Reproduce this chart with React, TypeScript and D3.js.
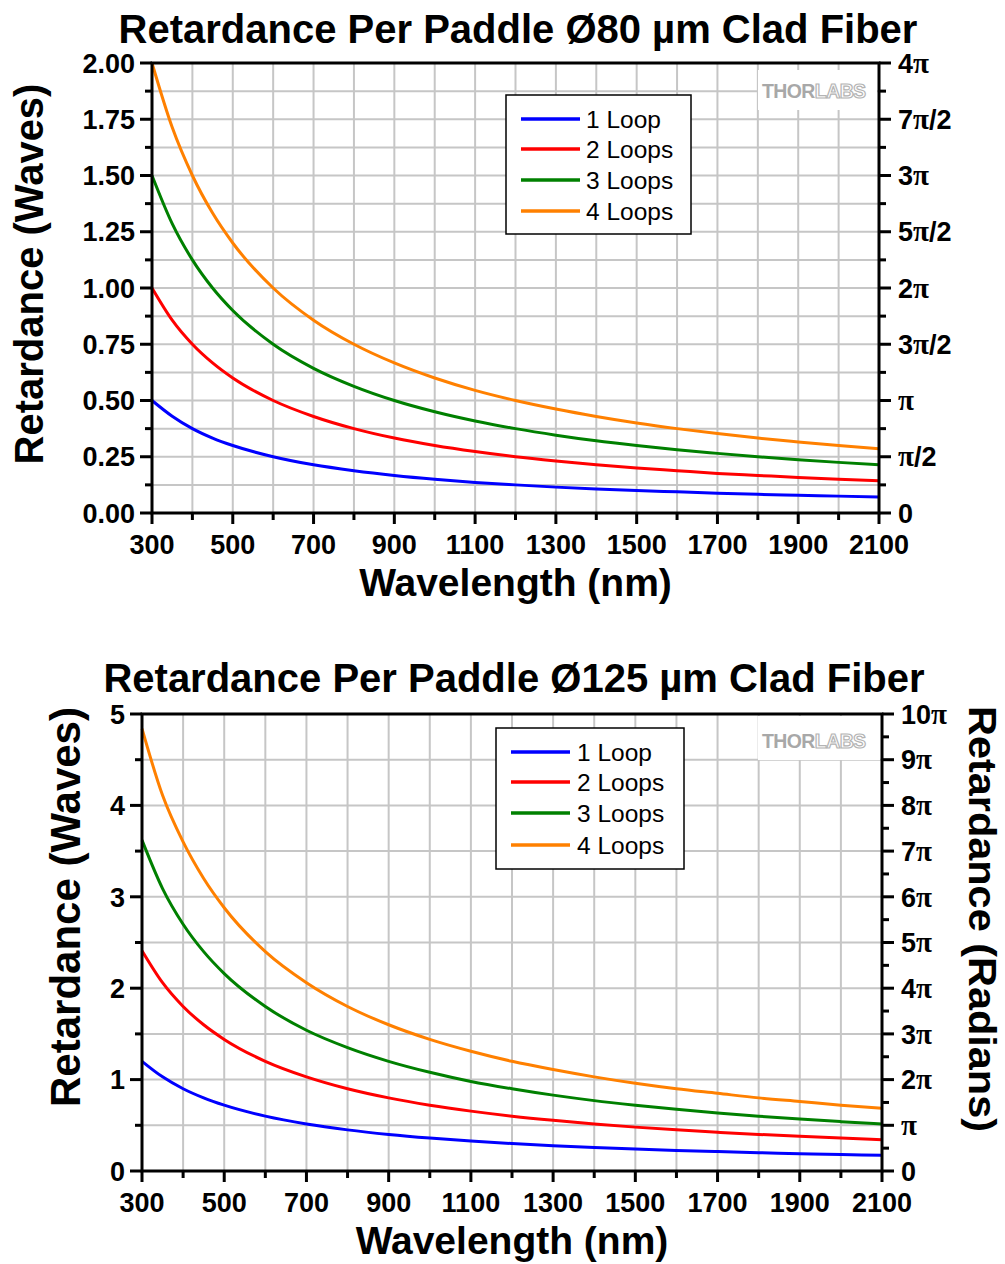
import React from "react";
import * as d3 from "d3";

// wavelength samples (nm)
const wavelengths = [300, 350, 400, 450, 500, 600, 700, 800, 900, 1000, 1100, 1200, 1300, 1400, 1500, 1600, 1700, 1800, 1900, 2000, 2100];

// Ø80 µm clad fiber, retardance in waves
const top1 = [0.50, 0.43, 0.375, 0.333, 0.30, 0.25, 0.214, 0.188, 0.167, 0.15, 0.136, 0.125, 0.115, 0.107, 0.10, 0.094, 0.088, 0.083, 0.079, 0.075, 0.071];
const top2 = [1.00, 0.857, 0.75, 0.667, 0.60, 0.50, 0.429, 0.375, 0.333, 0.30, 0.273, 0.25, 0.231, 0.214, 0.20, 0.188, 0.176, 0.167, 0.158, 0.15, 0.143];
const top3 = [1.50, 1.286, 1.125, 1.00, 0.90, 0.75, 0.643, 0.563, 0.50, 0.45, 0.409, 0.375, 0.346, 0.321, 0.30, 0.281, 0.265, 0.25, 0.237, 0.225, 0.214];
const top4 = [2.00, 1.714, 1.50, 1.333, 1.20, 1.00, 0.857, 0.75, 0.667, 0.60, 0.545, 0.50, 0.462, 0.429, 0.40, 0.375, 0.353, 0.333, 0.316, 0.30, 0.286];

// Ø125 µm clad fiber, retardance in waves
const bot1 = [1.20, 1.03, 0.90, 0.80, 0.72, 0.60, 0.514, 0.45, 0.40, 0.36, 0.327, 0.30, 0.277, 0.257, 0.24, 0.225, 0.212, 0.20, 0.189, 0.18, 0.171];
const bot2 = [2.41, 2.06, 1.80, 1.60, 1.44, 1.20, 1.03, 0.90, 0.80, 0.72, 0.655, 0.60, 0.554, 0.514, 0.48, 0.45, 0.424, 0.40, 0.379, 0.36, 0.343];
const bot3 = [3.62, 3.09, 2.70, 2.40, 2.16, 1.80, 1.54, 1.35, 1.20, 1.08, 0.98, 0.90, 0.83, 0.77, 0.72, 0.675, 0.635, 0.60, 0.568, 0.54, 0.514];
const bot4 = [4.84, 4.11, 3.60, 3.20, 2.88, 2.40, 2.06, 1.80, 1.60, 1.44, 1.31, 1.20, 1.11, 1.03, 0.96, 0.90, 0.85, 0.80, 0.76, 0.72, 0.686];

const seriesNames = ["1 Loop", "2 Loops", "3 Loops", "4 Loops"];
const seriesColors = ["#0000ff", "#ff0000", "#008000", "#ff8000"];

const xTickLabels = [300, 500, 700, 900, 1100, 1300, 1500, 1700, 1900, 2100];
const topYTicks = [0, 0.25, 0.5, 0.75, 1, 1.25, 1.5, 1.75, 2];
const topRadLabels = ["0", "π/2", "π", "3π/2", "2π", "5π/2", "3π", "7π/2", "4π"];
const botYTicks = [0, 1, 2, 3, 4, 5];
const botRadTicks = [0, 0.5, 1, 1.5, 2, 2.5, 3, 3.5, 4, 4.5, 5];
const botRadLabels = ["0", "π", "2π", "3π", "4π", "5π", "6π", "7π", "8π", "9π", "10π"];

const FONT = "'Liberation Sans', Arial, Helvetica, sans-serif";
const PI_FONT = "'Liberation Serif', 'Times New Roman', serif";

function PiLabel({ text }: { text: string }) {
  // split on π so the symbol can use a serif face like the original
  const parts = text.split("π");
  const out: React.ReactNode[] = [];
  parts.forEach((p, i) => {
    if (p) out.push(<tspan key={"t" + i}>{p}</tspan>);
    if (i < parts.length - 1) out.push(<tspan key={"p" + i} fontFamily={PI_FONT} fontWeight="bold" fontSize="1.08em">π</tspan>);
  });
  return <>{out}</>;
}

type ChartProps = {
  title: string;
  titleY: number;
  titleX: number;
  box: { l: number; r: number; t: number; b: number };
  yMax: number;
  yTicks: number[];
  yFmt: (v: number) => string;
  yGridStep: number;
  radTicks: number[];
  radLabels: string[];
  radMinorStep: number;
  series: number[][];
  legend: { x: number; y: number; w: number; h: number; lineX: number; textX: number; rowY: number[] };
  logo: { x: number; y: number; boxY: number; boxH: number };
  yTitle: { x: number; y: number; size: number };
  xTitleY: number;
  rightTitle?: { x: number; y: number; size: number; len: number };
};

function Chart(p: ChartProps) {
  const { box } = p;
  const x = d3.scaleLinear().domain([300, 2100]).range([box.l, box.r]);
  const y = d3.scaleLinear().domain([0, p.yMax]).range([box.b, box.t]);
  const line = d3
    .line<number>()
    .x((_, i) => x(wavelengths[i]))
    .y((d) => y(d))
    .curve(d3.curveMonotoneX);

  const xGrid = d3.range(300, 2101, 100);
  const yGrid = d3.range(0, p.yMax + 1e-9, p.yGridStep);
  const yMinor = yGrid.filter((v) => !p.yTicks.some((t) => Math.abs(t - v) < 1e-9));
  const radMinor = d3.range(0, p.yMax + 1e-9, p.radMinorStep).filter((v) => !p.radTicks.some((t) => Math.abs(t - v) < 1e-9));

  return (
    <g fontFamily={FONT}>
      <text x={p.titleX} y={p.titleY} textAnchor="middle" fontWeight="bold" fontSize={40}>
        {p.title}
      </text>

      {/* grid */}
      <g stroke="#c6c6c6" strokeWidth={2}>
        {xGrid.map((v) => (
          <line key={"gx" + v} x1={x(v)} x2={x(v)} y1={box.t} y2={box.b} />
        ))}
        {yGrid.map((v) => (
          <line key={"gy" + v} x1={box.l} x2={box.r} y1={y(v)} y2={y(v)} />
        ))}
      </g>

      {/* logo */}
      <rect x={p.logo.x - 4} y={p.logo.boxY} width={box.r - p.logo.x + 2} height={p.logo.boxH} fill="#fff" />
      <text x={p.logo.x} y={p.logo.y} fontSize={19.5} fontWeight="bold" fontFamily={FONT} letterSpacing={-0.6}>
        <tspan fill="#a8a8a8">THOR</tspan>
        <tspan fill="#fff" stroke="#b4b4b4" strokeWidth={1.2}>LABS</tspan>
      </text>

      {/* curves */}
      {p.series.map((s, i) => (
        <path key={"s" + i} d={line(s) || ""} fill="none" stroke={seriesColors[i]} strokeWidth={3} />
      ))}

      {/* frame */}
      <rect x={box.l} y={box.t} width={box.r - box.l} height={box.b - box.t} fill="none" stroke="#000" strokeWidth={3} />

      {/* ticks */}
      <g stroke="#000" strokeWidth={3}>
        {xGrid.map((v) => (
          <line key={"tx" + v} x1={x(v)} x2={x(v)} y1={box.b} y2={box.b + (xTickLabels.includes(v) ? 11 : 7)} />
        ))}
        {p.yTicks.map((v) => (
          <line key={"ty" + v} x1={box.l - 12} x2={box.l} y1={y(v)} y2={y(v)} />
        ))}
        {yMinor.map((v) => (
          <line key={"tym" + v} x1={box.l - 7} x2={box.l} y1={y(v)} y2={y(v)} />
        ))}
        {p.radTicks.map((v) => (
          <line key={"tr" + v} x1={box.r} x2={box.r + 12} y1={y(v)} y2={y(v)} />
        ))}
        {radMinor.map((v) => (
          <line key={"trm" + v} x1={box.r} x2={box.r + 7} y1={y(v)} y2={y(v)} />
        ))}
      </g>

      <g fontWeight="bold" fontSize={27}>
        {xTickLabels.map((v) => (
          <text key={"lx" + v} x={x(v)} y={box.b + 41} textAnchor="middle">
            {v}
          </text>
        ))}
        {p.yTicks.map((v) => (
          <text key={"ly" + v} x={box.l - 17} y={y(v)} dy="0.36em" textAnchor="end">
            {p.yFmt(v)}
          </text>
        ))}
        {p.radTicks.map((v, i) => (
          <text key={"lr" + v} x={box.r + 19} y={y(v)} dy="0.36em" textAnchor="start">
            <PiLabel text={p.radLabels[i]} />
          </text>
        ))}
      </g>

      {/* axis titles */}
      <text
        transform={`translate(${p.yTitle.x},${p.yTitle.y}) rotate(-90)`}
        textAnchor="middle"
        fontWeight="bold"
        fontSize={p.yTitle.size}
      >
        Retardance (Waves)
      </text>
      {p.rightTitle && (
        <text
          transform={`translate(${p.rightTitle.x},${p.rightTitle.y}) rotate(90)`}
          textAnchor="middle"
          fontWeight="bold"
          fontSize={p.rightTitle.size}
          textLength={p.rightTitle.len}
          lengthAdjust="spacingAndGlyphs"
        >
          Retardance (Radians)
        </text>
      )}
      <text x={(box.l + box.r) / 2} y={p.xTitleY} textAnchor="middle" fontWeight="bold" fontSize={39}>
        Wavelength (nm)
      </text>

      {/* legend */}
      <rect x={p.legend.x} y={p.legend.y} width={p.legend.w} height={p.legend.h} fill="#fff" stroke="#000" strokeWidth={1.5} />
      {seriesNames.map((n, i) => (
        <g key={"lg" + i}>
          <line x1={p.legend.lineX} x2={p.legend.lineX + 59} y1={p.legend.rowY[i]} y2={p.legend.rowY[i]} stroke={seriesColors[i]} strokeWidth={3.5} />
          <text x={p.legend.textX} y={p.legend.rowY[i] + 9} fontSize={24.5}>
            {n}
          </text>
        </g>
      ))}
    </g>
  );
}

export default function App() {
  return (
    <svg width={1005} height={1264} style={{ position: "absolute", left: 0, top: 0, background: "#fff" }}>
      <Chart
        title="Retardance Per Paddle Ø80 µm Clad Fiber"
        titleX={518}
        titleY={43}
        box={{ l: 152, r: 879, t: 63, b: 513 }}
        yMax={2}
        yTicks={topYTicks}
        yFmt={d3.format(".2f")}
        yGridStep={0.125}
        radTicks={topYTicks}
        radLabels={topRadLabels}
        radMinorStep={0.125}
        series={[top1, top2, top3, top4]}
        legend={{ x: 506, y: 95, w: 185, h: 139, lineX: 521, textX: 586, rowY: [119, 149, 180, 211] }}
        logo={{ x: 762, y: 98, boxY: 70, boxH: 40 }}
        yTitle={{ x: 43, y: 274, size: 40 }}
        xTitleY={596}
      />
      <Chart
        title="Retardance Per Paddle Ø125 µm Clad Fiber"
        titleX={514}
        titleY={692}
        box={{ l: 142, r: 882, t: 714, b: 1171 }}
        yMax={5}
        yTicks={botYTicks}
        yFmt={d3.format("d")}
        yGridStep={0.5}
        radTicks={botRadTicks}
        radLabels={botRadLabels}
        radMinorStep={0.25}
        series={[bot1, bot2, bot3, bot4]}
        legend={{ x: 496, y: 728, w: 188, h: 141, lineX: 511, textX: 577, rowY: [752, 782, 813, 845] }}
        logo={{ x: 762, y: 748, boxY: 716, boxH: 44 }}
        yTitle={{ x: 80, y: 907, size: 42 }}
        xTitleY={1254}
        rightTitle={{ x: 969, y: 919, size: 38, len: 426 }}
      />
    </svg>
  );
}
